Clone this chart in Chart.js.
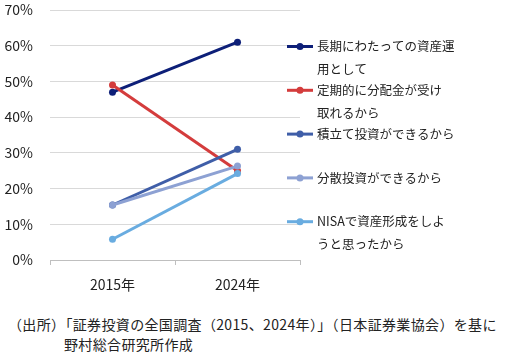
<!DOCTYPE html>
<html><head><meta charset="utf-8">
<script src="https://cdn.jsdelivr.net/npm/chart.js@4/dist/chart.umd.min.js"></script>
<style>
html,body{margin:0;padding:0;background:#fff;}
#wrap{position:relative;width:508px;height:300px;}
#note{font-family:"Noto Sans CJK JP",sans-serif;font-size:14px;color:#222;line-height:20px;margin:0;padding:14px 0 0 8px;white-space:nowrap;letter-spacing:0.35px;}
</style></head><body>
<div id="wrap"><canvas id="c" width="508" height="300"></canvas></div>
<div id="note">（出所）「証券投資の全国調査（2015、2024年）」（日本証券業協会）を基に<br><span style="padding-left:56px">野村総合研究所作成</span></div>
<script>
const categories = ["2015年", "2024年"];
const seriesNames = [
  ["長期にわたっての資産運", "用として"],
  ["定期的に分配金が受け", "取れるから"],
  ["積立て投資ができるから"],
  ["分散投資ができるから"],
  ["NISAで資産形成をしよ", "うと思ったから"]
];
const longTerm = [47, 61];
const dividend = [49, 25];
const accumulate = [15.4, 31];
const diversify = [15.4, 26.3];
const nisa = [5.8, 24.2];
const yTicks = [0, 10, 20, 30, 40, 50, 60, 70];
const colors = ["#0d1f78", "#d43c3c", "#3f5ea8", "#8da1d3", "#69ace0"];

const seriesValues = [longTerm, dividend, accumulate, diversify, nisa];
const FONT = '"Noto Sans CJK JP", sans-serif';

const legendPlugin = {
  id: 'sideLegend',
  afterDraw(chart) {
    const ctx = chart.ctx;
    const x0 = 287, startY = 46.5, gap = 43.8, lineH = 23;
    ctx.save();
    chart.data.datasets.forEach((ds, i) => {
      const y = startY + i * gap;
      ctx.strokeStyle = ds.borderColor;
      ctx.lineWidth = 3;
      ctx.beginPath(); ctx.moveTo(x0, y); ctx.lineTo(x0 + 26, y); ctx.stroke();
      ctx.fillStyle = ds.borderColor;
      ctx.beginPath(); ctx.arc(x0 + 13, y, 3.5, 0, Math.PI * 2); ctx.fill();
      ctx.fillStyle = '#222';
      ctx.font = '12.5px ' + FONT;
      ctx.textBaseline = 'middle';
      ctx.textAlign = 'left';
      seriesNames[i].forEach((t, k) => ctx.fillText(t, x0 + 30, y + k * lineH));
    });
    ctx.restore();
  }
};

new Chart(document.getElementById('c'), {
  type: 'line',
  data: {
    labels: categories,
    datasets: seriesValues.map((v, i) => ({
      label: seriesNames[i].join(''),
      data: v,
      borderColor: colors[i],
      backgroundColor: colors[i],
      borderWidth: 3,
      pointRadius: 3.5,
      pointHoverRadius: 3.5,
      pointBorderWidth: 0,
      order: 5 - i,
      tension: 0
    }))
  },
  options: {
    responsive: false,
    animation: false,
    events: [],
    layout: { padding: { top: 10, right: 208, left: 0, bottom: 0 } },
    plugins: { legend: { display: false }, tooltip: { enabled: false } },
    scales: {
      x: {
        offset: true,
        grid: { display: true, drawOnChartArea: false, color: '#bfbfbf', tickLength: 5, offset: true },
        border: { color: '#bfbfbf', width: 1 },
        ticks: { color: '#222', font: { family: FONT, size: 14 }, padding: 11 },
        afterFit(s) { s.height = 40; s.paddingLeft = 0; s.paddingRight = 0; }
      },
      y: {
        min: 0, max: 70,
        afterBuildTicks(s) { s.ticks = yTicks.map(v => ({ value: v })); },
        grid: { color: '#d9d9d9', drawTicks: false },
        border: { display: false },
        ticks: { color: '#222', font: { family: FONT, size: 14 }, padding: 17, callback: v => v + '%' },
        afterFit(s) { s.width = 50; s.paddingTop = 0; s.paddingBottom = 0; }
      }
    }
  },
  plugins: [legendPlugin]
});
</script>
</body></html>
